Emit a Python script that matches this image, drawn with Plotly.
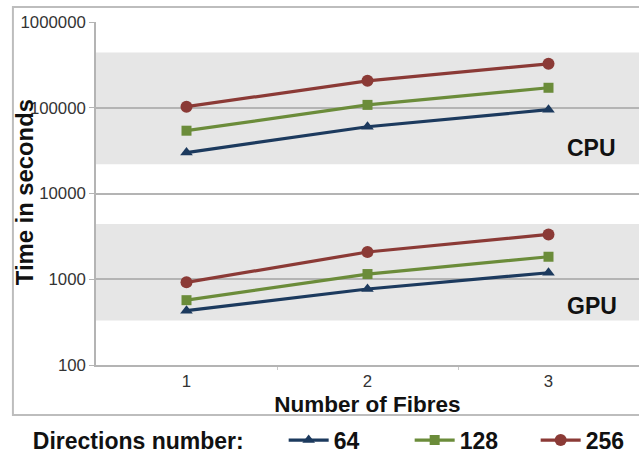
import plotly.graph_objects as go

fibres = [1, 2, 3]
series_names = ["64", "128", "256"]
cpu_64 = [30000, 60000, 95000]
cpu_128 = [54000, 108000, 171000]
cpu_256 = [103000, 206000, 325000]
gpu_64 = [430, 770, 1190]
gpu_128 = [570, 1150, 1830]
gpu_256 = [920, 2080, 3330]
cpu_band = [22000, 440000]
gpu_band = [330, 4400]
y_tickvals = [100, 1000, 10000, 100000, 1000000]
y_ticktext = ["100", "1000", "10000", "100000", "1000000"]

colors = {"64": "#1c3a5e", "128": "#6b8c3a", "256": "#8b3a36"}
symbols = {"64": "triangle-up", "128": "square", "256": "circle"}
msize = {"64": 11, "128": 10, "256": 12}

FONT = "Liberation Sans, Arial, sans-serif"

fig = go.Figure()
data = {"64": (cpu_64, gpu_64), "128": (cpu_128, gpu_128), "256": (cpu_256, gpu_256)}
for name in series_names:
    cpu, gpu = data[name]
    for i, vals in enumerate((cpu, gpu)):
        fig.add_trace(go.Scatter(
            x=fibres, y=vals, mode="lines+markers", name="<b>" + name + "</b>",
            legendgroup=name, showlegend=(i == 0),
            line=dict(color=colors[name], width=3.2),
            marker=dict(color=colors[name], symbol=symbols[name], size=msize[name]),
        ))

for lo, hi in (cpu_band, gpu_band):
    fig.add_shape(type="rect", xref="paper", x0=0, x1=1, yref="y", y0=lo, y1=hi,
                  fillcolor="#e6e6e6", line_width=0, layer="below")

# outer frame
fig.add_shape(type="rect", xref="paper", yref="paper", x0=-0.153, x1=1.05, y0=-0.146, y1=1.044,
              line=dict(color="#bdbdbd", width=2), fillcolor="rgba(0,0,0,0)", layer="below")

fig.add_annotation(text="<b>CPU</b>", xref="paper", x=0.913, xanchor="center", yref="y", y=4.535,
                   showarrow=False, font=dict(family=FONT, size=23, color="#111"))
fig.add_annotation(text="<b>GPU</b>", xref="paper", x=0.913, xanchor="center", yref="y", y=2.686,
                   showarrow=False, font=dict(family=FONT, size=23, color="#111"))
fig.add_annotation(text="<b>Time in seconds</b>", xref="paper", x=-0.1326, xanchor="center",
                   yref="paper", y=0.504, yanchor="middle",
                   textangle=-90, showarrow=False, font=dict(family=FONT, size=23.8, color="#111"))

fig.update_layout(
    width=639, height=455,
    margin=dict(l=96, r=0, t=22, b=90, autoexpand=False),
    paper_bgcolor="white", plot_bgcolor="white",
    font=dict(family=FONT, color="#222"),
    xaxis=dict(
        range=[0.5, 3.5], tickvals=fibres, ticks="", showgrid=False,
        showline=True, linecolor="#b4b4b4", linewidth=1.5,
        tickfont=dict(size=16.8, color="#333"),
        minor=dict(tickvals=[1.5, 2.5], ticks="outside", ticklen=3, tickcolor="#c8c8c8"),
        title=dict(text="<b>Number of Fibres</b>", font=dict(size=22.5, color="#111"), standoff=6),
        zeroline=False, automargin=False,
    ),
    yaxis=dict(
        type="log", range=[2, 6], tickvals=y_tickvals, ticktext=y_ticktext,
        ticks="outside", ticklen=5, tickcolor="#b4b4b4",
        showgrid=True, gridcolor="#b4b4b4", gridwidth=1.5,
        showline=True, linecolor="#b4b4b4", linewidth=1.5,
        tickfont=dict(size=16.8, color="#333"),
        zeroline=False, automargin=False,
    ),
    legend=dict(
        orientation="h", x=-0.12, xanchor="left", y=-0.219, yanchor="middle",
        title=dict(text="<b>Directions number:</b>&nbsp;&nbsp;&nbsp;&nbsp;&nbsp;",
                   font=dict(size=23, color="#111"), side="left"),
        font=dict(size=23, color="#111", family=FONT),
        bgcolor="rgba(0,0,0,0)", itemwidth=40, entrywidth=71,
    ),
)

fig.write_html("out.html")
